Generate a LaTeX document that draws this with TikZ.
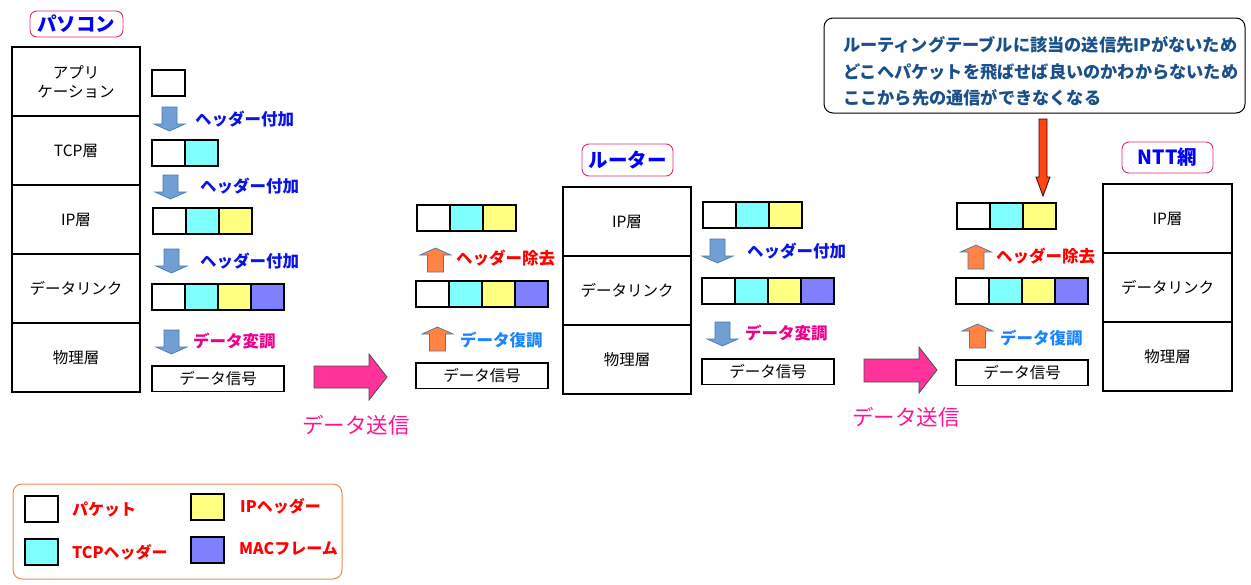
\documentclass[tikz,border=0pt]{standalone}
\usepackage{fontspec}
\setmainfont{Noto Sans CJK JP}
\definecolor{cyanc}{HTML}{80FFFF}
\definecolor{yelc}{HTML}{FFFF80}
\definecolor{macc}{HTML}{8080FF}
\definecolor{arrblue}{HTML}{719FD3}
\definecolor{arredge}{HTML}{4A78B0}
\definecolor{arrorange}{HTML}{FF8342}
\definecolor{pinkarr}{HTML}{FF3399}
\definecolor{redarr}{HTML}{FF4513}
\definecolor{titlepink}{HTML}{E0287A}
\definecolor{sendpink}{HTML}{FF1493}
\definecolor{demod}{HTML}{1A84FF}
\definecolor{addblue}{HTML}{0A14E6}
\definecolor{calltext}{HTML}{1A4F8A}
\definecolor{legendorange}{HTML}{F0884C}
\newcommand\packet[4]{%
  \node[cell] (#1-1) at (#2,#3) {};
  \ifnum#4>1\relax \node[cell,fill=cyanc,anchor=west] (#1-2) at (#1-1.east) {};\fi
  \ifnum#4>2\relax \node[cell,fill=yelc,anchor=west] (#1-3) at (#1-2.east) {};\fi
  \ifnum#4>3\relax \node[cell,fill=macc,anchor=west] (#1-4) at (#1-3.east) {};\fi
}
\tikzset{
  layer/.style={draw, line width=1.2pt, minimum width=128pt, minimum height=69pt, outer sep=0pt,
    anchor=north west, inner sep=0pt, align=center, font=\fontsize{15.5}{19}\selectfont},
  cell/.style={draw, line width=1.2pt, minimum width=33pt, minimum height=26pt, outer sep=0pt,
    anchor=north west, inner sep=0pt, fill=white},
  sig/.style={draw, line width=1.2pt, minimum width=132pt, minimum height=25.5pt, outer sep=0pt,
    anchor=north west, inner sep=0pt, font=\fontsize{15.5}{18}\selectfont},
  titlebox/.style={draw=titlepink, line width=0.9pt, rounded corners=7pt,
    text=blue, font=\fontsize{19.5}{22}\selectfont\bfseries, inner sep=0pt},
  lbl/.style={anchor=west, inner sep=0pt, font=\fontsize{16.5}{19}\selectfont\bfseries},
  addlbl/.style={lbl, text=addblue},
  modlbl/.style={lbl, text=magenta},
  remlbl/.style={lbl, text=red},
  demlbl/.style={lbl, text=demod},
  sendlbl/.style={anchor=center, inner sep=0pt, text=sendpink, font=\fontsize{21.5}{24}\selectfont},
  leglbl/.style={anchor=west, inner sep=0pt, text=red, font=\fontsize{16}{19}\selectfont\bfseries},
  swatch/.style={draw, line width=1.2pt, minimum width=33pt, minimum height=26pt, outer sep=0pt, anchor=north west, inner sep=0pt},
  calllbl/.style={anchor=west, inner sep=0pt, text=calltext, font=\fontsize{17.2}{19}\selectfont\bfseries},
  pics/dnarr/.style={code={
    \filldraw[fill=arrblue, draw=arredge, line width=0.7pt]
      (-7.5,0) -- (7.5,0) -- (7.5,17) -- (15.5,17) -- (0,24) -- (-15.5,17) -- (-7.5,17) -- cycle;}},
  pics/uparr/.style={code={
    \filldraw[fill=arrorange, draw=arredge, line width=0.7pt]
      (-8,24) -- (8,24) -- (8,7) -- (15.5,7) -- (0,0) -- (-15.5,7) -- (-8,7) -- cycle;}},
}
\begin{document}
\begin{tikzpicture}[x=1pt,y=-1pt]
\useasboundingbox (0,0) rectangle (1251,584);

% ---------- PC ----------
\node[titlebox, minimum width=93pt, minimum height=26pt] (pc) at (76.5,24) {パソコン};
\node[layer] (pc-app) at (12,47) {アプリ\\ケーション};
\node[layer] (pc-tcp) at (pc-app.south west) {TCP層};
\node[layer] (pc-ip) at (pc-tcp.south west) {IP層};
\node[layer] (pc-dl) at (pc-ip.south west) {データリンク};
\node[layer] (pc-ph) at (pc-dl.south west) {物理層};

\packet{pa}{152}{70}{1}
\pic at (169.5,107) {dnarr};
\node[addlbl] (pa-l) at (195,119) {ヘッダー付加};
\packet{pt}{152}{140}{2}
\pic at (170.5,175) {dnarr};
\node[addlbl] (pt-l) at (200,186) {ヘッダー付加};
\packet{pi}{153}{208}{3}
\pic at (171.5,249) {dnarr};
\node[addlbl] (pi-l) at (200,261) {ヘッダー付加};
\packet{pd}{152}{284}{4}
\pic at (171.5,330) {dnarr};
\node[modlbl] (pd-l) at (193,341) {データ変調};
\node[sig] (ps) at (152,366) {データ信号};

% ---------- send arrow 1 ----------
\filldraw[fill=pinkarr, draw=black!70, line width=0.8pt]
  (314,366) -- (369,366) -- (369,354) -- (387,377) -- (369,400) -- (369,388) -- (314,388) -- cycle;
\node[sendlbl] (send1) at (356,425) {データ送信};

% ---------- router (in) ----------
\packet{ri}{417}{205}{3}
\pic at (435.5,248) {uparr};
\node[remlbl] (ri-l) at (456,258) {ヘッダー除去};
\packet{rd}{416}{281}{4}
\pic at (437.5,327) {uparr};
\node[demlbl] (rd-l) at (460,340) {データ復調};
\node[sig] (rs) at (416,363) {データ信号};

% ---------- router ----------
\node[titlebox, minimum width=91pt, minimum height=32pt] (rt) at (627.5,160) {ルーター};
\node[layer] (rt-ip) at (563,187) {IP層};
\node[layer] (rt-dl) at (rt-ip.south west) {データリンク};
\node[layer] (rt-ph) at (rt-dl.south west) {物理層};

% ---------- router (out) ----------
\packet{oi}{703}{202}{3}
\pic at (717.5,239) {dnarr};
\node[addlbl] (oi-l) at (747,251) {ヘッダー付加};
\packet{od}{702}{278}{4}
\pic at (722.5,322) {dnarr};
\node[modlbl] (od-l) at (745,333) {データ変調};
\node[sig] (os) at (702,359) {データ信号};

% ---------- send arrow 2 ----------
\filldraw[fill=pinkarr, draw=black!70, line width=0.8pt]
  (864,359) -- (919,359) -- (919,347) -- (937,370) -- (919,393) -- (919,382) -- (864,382) -- cycle;
\node[sendlbl] (send2) at (906,417) {データ送信};

% ---------- NTT side (in) ----------
\packet{ni}{957}{203}{3}
\pic at (976,245) {uparr};
\node[remlbl] (ni-l) at (996,256) {ヘッダー除去};
\packet{nd}{956}{278}{4}
\pic at (977.5,324) {uparr};
\node[demlbl] (nd-l) at (1000,338) {データ復調};
\node[sig] (ns) at (956,360) {データ信号};

% ---------- NTT ----------
\node[titlebox, minimum width=91pt, minimum height=31pt] (ntt) at (1167.5,157.5) {NTT網};
\node[layer, minimum width=129pt] (nt-ip) at (1103,184) {IP層};
\node[layer, minimum width=129pt] (nt-dl) at (nt-ip.south west) {データリンク};
\node[layer, minimum width=129pt] (nt-ph) at (nt-dl.south west) {物理層};

% ---------- callout ----------
\node[draw, line width=1pt, rounded corners=9pt, minimum width=421pt, minimum height=95pt,
  anchor=north west, inner sep=0pt, outer sep=0pt] (call) at (824,18) {};
\node[calllbl] (c1) at (843,45) {ルーティングテーブルに該当の送信先IPがないため};
\node[calllbl] (c2) at (843,72) {どこへパケットを飛ばせば良いのかわからないため};
\node[calllbl] (c3) at (843,98) {ここから先の通信ができなくなる};
\filldraw[fill=redarr, draw=black!60!red!60!black, line width=0.8pt]
  (1039,119) -- (1047,119) -- (1047,177) -- (1050,177) -- (1043,196) -- (1036,177) -- (1039,177) -- cycle;

% ---------- legend ----------
\node[draw=legendorange, line width=1pt, rounded corners=9pt, minimum width=329pt, minimum height=95pt,
  anchor=north west, inner sep=0pt, outer sep=0pt] (legend) at (13,484) {};
\node[swatch, fill=white] (sw1) at (25,496) {};
\node[leglbl] (lg1) at (72,509) {パケット};
\node[swatch, fill=cyanc] (sw2) at (25,539) {};
\node[leglbl] (lg2) at (72,552) {TCPヘッダー};
\node[swatch, fill=yelc] (sw3) at (191,494) {};
\node[leglbl] (lg3) at (240,506) {IPヘッダー};
\node[swatch, fill=macc] (sw4) at (191,537) {};
\node[leglbl] (lg4) at (239,549) {MACフレーム};
\end{tikzpicture}
\end{document}
